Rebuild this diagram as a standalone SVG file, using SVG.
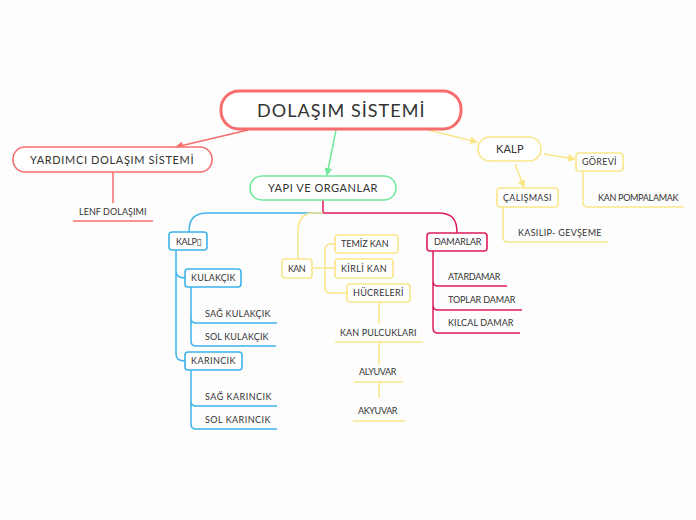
<svg xmlns="http://www.w3.org/2000/svg" width="696" height="520" viewBox="0 0 696 520">
<style>
text{font-family:Lato,"Open Sans","DejaVu Sans",sans-serif;fill:#333;letter-spacing:0.5px}
.t18{font-size:18px}
.t11{font-size:11px}
.t9{font-size:9px}
.box{fill:#fff;stroke-width:1.6}
.red{stroke:#f76d6d}
.grn{stroke:#72e89c}
.yel{stroke:#f9e78a}
.blu{stroke:#3cb3ea}
.crm{stroke:#e01a5c}
.ln{fill:none;stroke-width:1.5}
</style>
<defs>
<marker id="ar" markerWidth="8" markerHeight="8" refX="7" refY="4" orient="auto" markerUnits="userSpaceOnUse"><path d="M0,0 L8,4 L0,8 z" fill="#f76d6d"/></marker>
<marker id="ag" markerWidth="8" markerHeight="8" refX="7" refY="4" orient="auto" markerUnits="userSpaceOnUse"><path d="M0,0 L8,4 L0,8 z" fill="#72e89c"/></marker>
<marker id="ay" markerWidth="8" markerHeight="8" refX="7" refY="4" orient="auto" markerUnits="userSpaceOnUse"><path d="M0,0 L8,4 L0,8 z" fill="#f9e78a"/></marker>
</defs>
<rect width="696" height="520" fill="#fdfdfd"/>
<g id="connectors">
<line x1="248" y1="130" x2="176" y2="147" class="ln red" marker-end="url(#ar)"/>
<line x1="336" y1="130" x2="327" y2="175" class="ln grn" marker-end="url(#ag)"/>
<line x1="428" y1="130" x2="477" y2="142" class="ln yel" marker-end="url(#ay)"/>
<line x1="544" y1="154" x2="575" y2="159" class="ln yel" marker-end="url(#ay)"/>
<line x1="515" y1="164" x2="524" y2="187" class="ln yel" marker-end="url(#ay)"/>
<path d="M113 172 V203 M73 221 H153" class="ln red"/>
<path d="M323 200 V213" class="ln crm"/>
<path d="M323 213 H208 C194 213 189 219 189 232" class="ln blu"/>
<path d="M323 213 H313 C303 213 298 220 298 232 V259" class="ln yel"/>
<path d="M323 213 H438 C452 213 457 219 457 233" class="ln crm"/>
<path d="M176 250 V271 Q176 278 185 278 M176 250 V354 Q176 361 185 361" class="ln blu"/>
<path d="M191 287 V318 Q191 323 196 323 H277 M191 287 V341 Q191 346 196 346 H276" class="ln blu"/>
<path d="M191 370 V401 Q191 406 196 406 H277 M191 370 V424 Q191 429 196 429 H277" class="ln blu"/>
<path d="M312 268 H335 M335 244 H331 Q325 244 325 250 V287 Q325 293 331 293 H347" class="ln yel"/>
<path d="M379 302 V324 M335 342 H423 M379 342 V365 M354 382 H403 M379 382 V398 M353 421 H405" class="ln yel"/>
<path d="M433 251 V281 Q433 286 438 286 H507 M433 251 V305 Q433 310 438 310 H522 M433 251 V328 Q433 333 438 333 H520" class="ln crm"/>
<path d="M583 171 V202 Q583 207 588 207 H684 M503 207 V237 Q503 242 508 242 H608" class="ln yel"/>
</g>
<g id="n-main"><rect x="221" y="91" width="240" height="38" rx="18" fill="#fff" stroke="#f76d6d" stroke-width="3"/><text class="t18" x="257" y="117" textLength="168" lengthAdjust="spacing">DOLAŞIM SİSTEMİ</text></g>
<g id="n-yardimci"><rect x="13" y="147" width="199" height="25" rx="12" class="box red"/><text class="t11" x="30" y="164" textLength="164">YARDIMCI DOLAŞIM SİSTEMİ</text></g>
<g id="n-lenf"><text class="t9" x="79" y="215" textLength="68">LENF DOLAŞIMI</text></g>
<g id="n-yapi"><rect x="250" y="176" width="146" height="24" rx="12" class="box grn"/><text class="t11" x="268" y="192" textLength="110">YAPI VE ORGANLAR</text></g>
<g id="n-kalp"><rect x="478" y="137" width="63" height="24" rx="12" class="box yel"/><text class="t11" x="496" y="153" textLength="28">KALP</text></g>
<g id="n-gorevi"><rect x="576" y="153" width="47" height="18" rx="3" class="box yel"/><text class="t9" x="582" y="165" textLength="35">GÖREVİ</text></g>
<g id="n-calismasi"><rect x="497" y="188" width="61" height="19" rx="3" class="box yel"/><text class="t9" x="503" y="201" textLength="49">ÇALIŞMASI</text></g>
<g id="n-pompa"><text class="t9" x="598" y="201" textLength="81">KAN POMPALAMAK</text></g>
<g id="n-kasilip"><text class="t9" x="518" y="236" textLength="84">KASILIP- GEVŞEME</text></g>
<g id="n-kalp2"><rect x="169" y="232" width="38" height="18" rx="3" class="box blu"/><text class="t9" x="176" y="245" textLength="26">KALP▯</text></g>
<g id="n-kulakcik"><rect x="185" y="269" width="56" height="18" rx="3" class="box blu"/><text class="t9" x="191" y="281" textLength="45">KULAKÇIK</text></g>
<g id="n-sagkul"><text class="t9" x="205" y="317" textLength="66">SAĞ KULAKÇIK</text></g>
<g id="n-solkul"><text class="t9" x="205" y="340" textLength="64">SOL KULAKÇIK</text></g>
<g id="n-karincik"><rect x="185" y="352" width="57" height="18" rx="3" class="box blu"/><text class="t9" x="191" y="364" textLength="45">KARINCIK</text></g>
<g id="n-sagkar"><text class="t9" x="205" y="400" textLength="67">SAĞ KARINCIK</text></g>
<g id="n-solkar"><text class="t9" x="205" y="423" textLength="66">SOL KARINCIK</text></g>
<g id="n-kan"><rect x="282" y="259" width="30" height="19" rx="3" class="box yel"/><text class="t9" x="288" y="272" textLength="18">KAN</text></g>
<g id="n-temiz"><rect x="335" y="235" width="63" height="18" rx="3" class="box yel"/><text class="t9" x="341" y="247" textLength="48">TEMİZ KAN</text></g>
<g id="n-kirli"><rect x="335" y="259" width="58" height="19" rx="3" class="box yel"/><text class="t9" x="341" y="272" textLength="46">KİRLİ KAN</text></g>
<g id="n-hucre"><rect x="347" y="284" width="63" height="18" rx="3" class="box yel"/><text class="t9" x="353" y="296" textLength="51">HÜCRELERİ</text></g>
<g id="n-pulcuk"><text class="t9" x="340" y="336" textLength="77">KAN PULCUKLARI</text></g>
<g id="n-alyuvar"><text class="t9" x="359" y="375" textLength="38">ALYUVAR</text></g>
<g id="n-akyuvar"><text class="t9" x="358" y="414" textLength="40">AKYUVAR</text></g>
<g id="n-damarlar"><rect x="427" y="233" width="60" height="18" rx="3" class="box crm"/><text class="t9" x="434" y="245" textLength="48">DAMARLAR</text></g>
<g id="n-atar"><text class="t9" x="448" y="280" textLength="53">ATARDAMAR</text></g>
<g id="n-toplar"><text class="t9" x="448" y="303" textLength="68">TOPLAR DAMAR</text></g>
<g id="n-kilcal"><text class="t9" x="448" y="326" textLength="66">KILCAL DAMAR</text></g>
</svg>
